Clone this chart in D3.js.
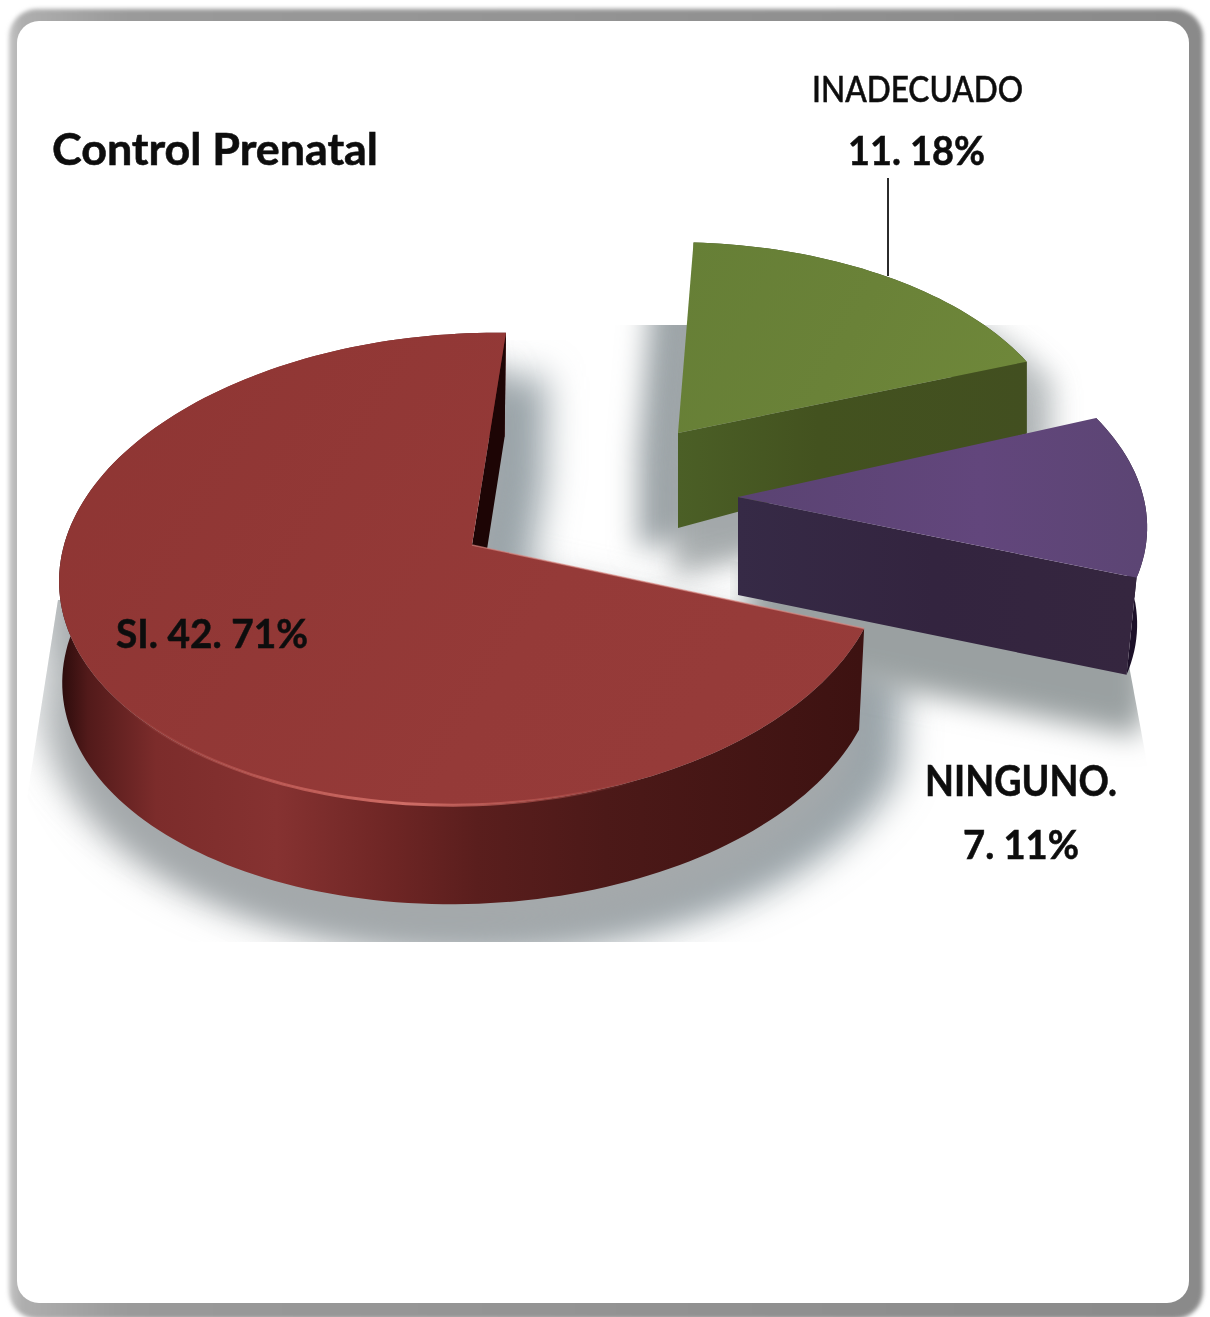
<!DOCTYPE html>
<html>
<head>
<meta charset="utf-8">
<script src="https://cdn.jsdelivr.net/npm/d3@7"></script>
<style>
html,body{margin:0;padding:0;background:#fff}
svg{display:block}
text{font-family:Lato,"Open Sans",sans-serif;fill:#111;stroke:#111;stroke-width:.6px}
</style>
</head>
<body>
<script>
// ---- data ----
const titleText = "Control Prenatal";
const categories = ["INADECUADO", "NINGUNO.", "SI."];
const values = [11, 7, 42];
const percents = ["18%", "11%", "71%"];

// ---- layout ----
const W = 1210, H = 1317;
const deg = Math.PI / 180;
const Rx = 412, Ry = 233.6, K = 0.1016;
const svg = d3.select("body").append("svg").attr("width", W).attr("height", H);
const defs = svg.append("defs");

const pie = d3.pie().sort(null).value(d => d).startAngle(4 * deg).endAngle(364 * deg);
const arcs = pie(values);

const geom = [
  {ax:678, ay:433, sx:.94, sy:.90, shear:9, yskew:-2, dOuter:[0,72], dApex:[0,95], bs:1},
  {ax:738, ay:497, sx:.98, sy:.95, shear:25, yskew:-6, dOuter:[-10,97], dApex:[0,98], bs:1},
  {ax:472, ay:545, sx:.995, sy:1, shear:-8, yskew:-8, dOuter:[-1,102], dApex:[0,100], bs:.99}
];

function proj(g, t, scale = 1, off = [0, 0]) {
  const X = Math.sin(t) * scale, Y = -Math.cos(t) * scale;
  const s = 1 / (1 - K * Y);
  return [g.ax + g.sx * Rx * X * s + g.shear * Y + off[0],
          g.ay + g.sy * Ry * Y * s + g.yskew * X + off[1]];
}
const line = d3.line();
const closed = pts => line(pts) + "Z";
function sweep(a0, a1) {
  const n = Math.max(8, Math.ceil(Math.abs(a1 - a0) / (1.5 * deg)));
  return d3.range(n + 1).map(i => a0 + (a1 - a0) * i / n);
}
const topArc = (g, a) => sweep(a.startAngle, a.endAngle).map(t => proj(g, t));
const botArc = (g, a) => sweep(a.startAngle, a.endAngle).map(t => proj(g, t, g.bs, g.dOuter));
const topFace = (g, a) => closed([[g.ax, g.ay], ...topArc(g, a)]);
const rimPath = (g, a) => closed([...topArc(g, a), ...botArc(g, a).reverse()]);
function wallPath(g, a) {
  return closed([[g.ax, g.ay], proj(g, a.endAngle), proj(g, a.endAngle, g.bs, g.dOuter),
                 [g.ax + g.dApex[0], g.ay + g.dApex[1]]]);
}

// ---- defs ----
function grad(id, x1, y1, x2, y2, stops) {
  const lg = defs.append("linearGradient").attr("id", id)
    .attr("gradientUnits", "userSpaceOnUse")
    .attr("x1", x1).attr("y1", y1).attr("x2", x2).attr("y2", y2);
  stops.forEach(s => lg.append("stop").attr("offset", s[0]).attr("stop-color", s[1]).attr("stop-opacity", s[2] === undefined ? 1 : s[2]));
}
function blur(id, dev) {
  defs.append("filter").attr("id", id).attr("x", "-30%").attr("y", "-30%").attr("width", "160%").attr("height", "160%")
    .append("feGaussianBlur").attr("stdDeviation", dev);
}
blur("b1", 2.2); blur("b3", 14); blur("b4", 18); blur("bt", 0.45); blur("b0", 0.7);

grad("frame", 8, 0, 1205, 0, [[0, "#c6c6c6"], [.012, "#aeaeae"], [.1, "#9a9a9a"], [1, "#8a8a8a"]]);
grad("redRim", 60, 0, 862, 0, [[0, "#2a0b0b"], [.035, "#521a1a"], [.12, "#7c2c2b"], [.27, "#863231"], [.42, "#6d2524"], [.52, "#5a1e1d"], [.68, "#4c1918"], [1, "#3d1211"]]);
grad("redTop", 60, 340, 860, 800, [[0, "#8e3533"], [.6, "#953a38"], [1, "#973c3a"]]);
grad("redHi", 120, 0, 640, 0, [[0, "#c4605a", 0], [.3, "#c9625c", .75], [.55, "#cf6d66", 1], [.85, "#bd5853", .5], [1, "#a84a46", 0]]);
grad("greenTop", 680, 250, 1020, 420, [[0, "#667f36"], [.5, "#6a8238"], [1, "#6f883a"]]);
grad("greenWall", 678, 0, 1027, 0, [[0, "#4b5f26"], [.4, "#43521f"], [1, "#424f20"]]);
grad("purpleTop", 740, 500, 1140, 500, [[0, "#5a4372"], [.6, "#62467c"], [1, "#5c4574"]]);
grad("purpleWall", 738, 0, 1130, 0, [[0, "#362a46"], [.5, "#33243f"], [1, "#35263f"]]);

defs.append("clipPath").attr("id", "clipRedShadow").append("path")
  .attr("d", "M58,600 L22,830 L22,942 L960,942 L960,340 L480,340 L480,600 Z");
defs.append("clipPath").attr("id", "clipGreenShadow").append("path")
  .attr("d", "M540,325 L1100,325 L1100,660 L540,660 Z");
defs.append("clipPath").attr("id", "clipPurpleShadow").append("path")
  .attr("d", "M730,560 L1128,660 L1152,790 L830,810 L730,720 Z");

// ---- frame ----
svg.append("rect").attr("x", 9).attr("y", 9).attr("width", 1194).attr("height", 1310).attr("rx", 28)
  .attr("fill", "url(#frame)").attr("filter", "url(#b1)");
svg.append("rect").attr("x", 17).attr("y", 21).attr("width", 1172).attr("height", 1282).attr("rx", 22)
  .attr("fill", "#fff").attr("filter", "url(#b0)");

// ---- shadows ----
const gG = geom[0], gP = geom[1], gR = geom[2];
const aG = arcs[0], aP = arcs[1], aR = arcs[2];
const shadow = svg.append("g");
function castShadow(parentClip, g, a, color, opacity, filter, dx, dy) {
  const s = shadow.append("g").attr("clip-path", `url(#${parentClip})`)
    .append("g").attr("filter", `url(#${filter})`).attr("opacity", opacity)
    .attr("transform", `translate(${dx},${dy})`);
  [topFace(g, a), rimPath(g, a), wallPath(g, a)].forEach(d => s.append("path").attr("d", d).attr("fill", color));
}
castShadow("clipRedShadow", gR, aR, "#b4b9bb", .6, "b4", -30, 6);
castShadow("clipRedShadow", gR, aR, "#98a3a8", 1, "b4", 40, 44);
castShadow("clipRedShadow", gR, aR, "#a4a9ab", 1, "b4", -6, 40);
castShadow("clipGreenShadow", gG, aG, "#9ca4a8", 1, "b3", -40, 22);
castShadow("clipGreenShadow", gG, aG, "#a6acae", .8, "b3", 26, 20);
castShadow("clipGreenShadow", gG, aG, "#a2a7a9", .9, "b3", -5, 50);
castShadow("clipPurpleShadow", gP, aP, "#9aa0a1", 1, "b3", 10, 62);

// ---- slices (back to front) ----
const fills = [
  {top: "url(#greenTop)", wall: "url(#greenWall)", rim: "#3b4a1c"},
  {top: "url(#purpleTop)", wall: "url(#purpleWall)", rim: "#1c1028"},
  {top: "url(#redTop)", wall: "#1d0505", rim: "url(#redRim)"}
];
const pieG = svg.append("g");
arcs.forEach((a, i) => {
  const g = geom[i], f = fills[i], sl = pieG.append("g");
  sl.append("path").attr("d", rimPath(g, a)).attr("fill", f.rim);
  sl.append("path").attr("d", wallPath(g, a)).attr("fill", f.wall);
  sl.append("path").attr("d", topFace(g, a)).attr("fill", f.top);
  if (i === 2) {
    const front = sweep(150 * deg, 262 * deg).map(t => proj(g, t));
    sl.append("path").attr("d", line(front)).attr("fill", "none")
      .attr("stroke", "url(#redHi)").attr("stroke-width", 3).attr("filter", "url(#b0)");
    sl.append("path").attr("d", line([[g.ax, g.ay], proj(g, a.startAngle)])).attr("fill", "none")
      .attr("stroke", "#d88a84").attr("stroke-width", 1.4).attr("opacity", .65);
  }
});

// ---- leader and labels ----
svg.append("line").attr("x1", 888).attr("x2", 888).attr("y1", 178).attr("y2", 276)
  .attr("stroke", "#2b2b2b").attr("stroke-width", 2);

const label = (str, x0, x1, y, size, weight) => svg.append("text")
  .attr("x", x0).attr("y", y).attr("font-size", size).attr("font-weight", weight)
  .attr("textLength", x1 - x0).attr("lengthAdjust", "spacingAndGlyphs")
  .attr("filter", "url(#bt)").text(str);

const pieLabel = i => `${values[i]}. ${percents[i]}`;
label(titleText, 52, 378, 165, 44, 700);
label(categories[0], 812, 1023, 102, 37, 500);
label(pieLabel(0), 848, 985, 165, 41, 700);
label(categories[1], 925, 1117, 796, 42, 700);
label(pieLabel(1), 963, 1079, 859, 41, 700);
label(`${categories[2]} ${pieLabel(2)}`, 116, 308, 648, 41, 700);
</script>
</body>
</html>
